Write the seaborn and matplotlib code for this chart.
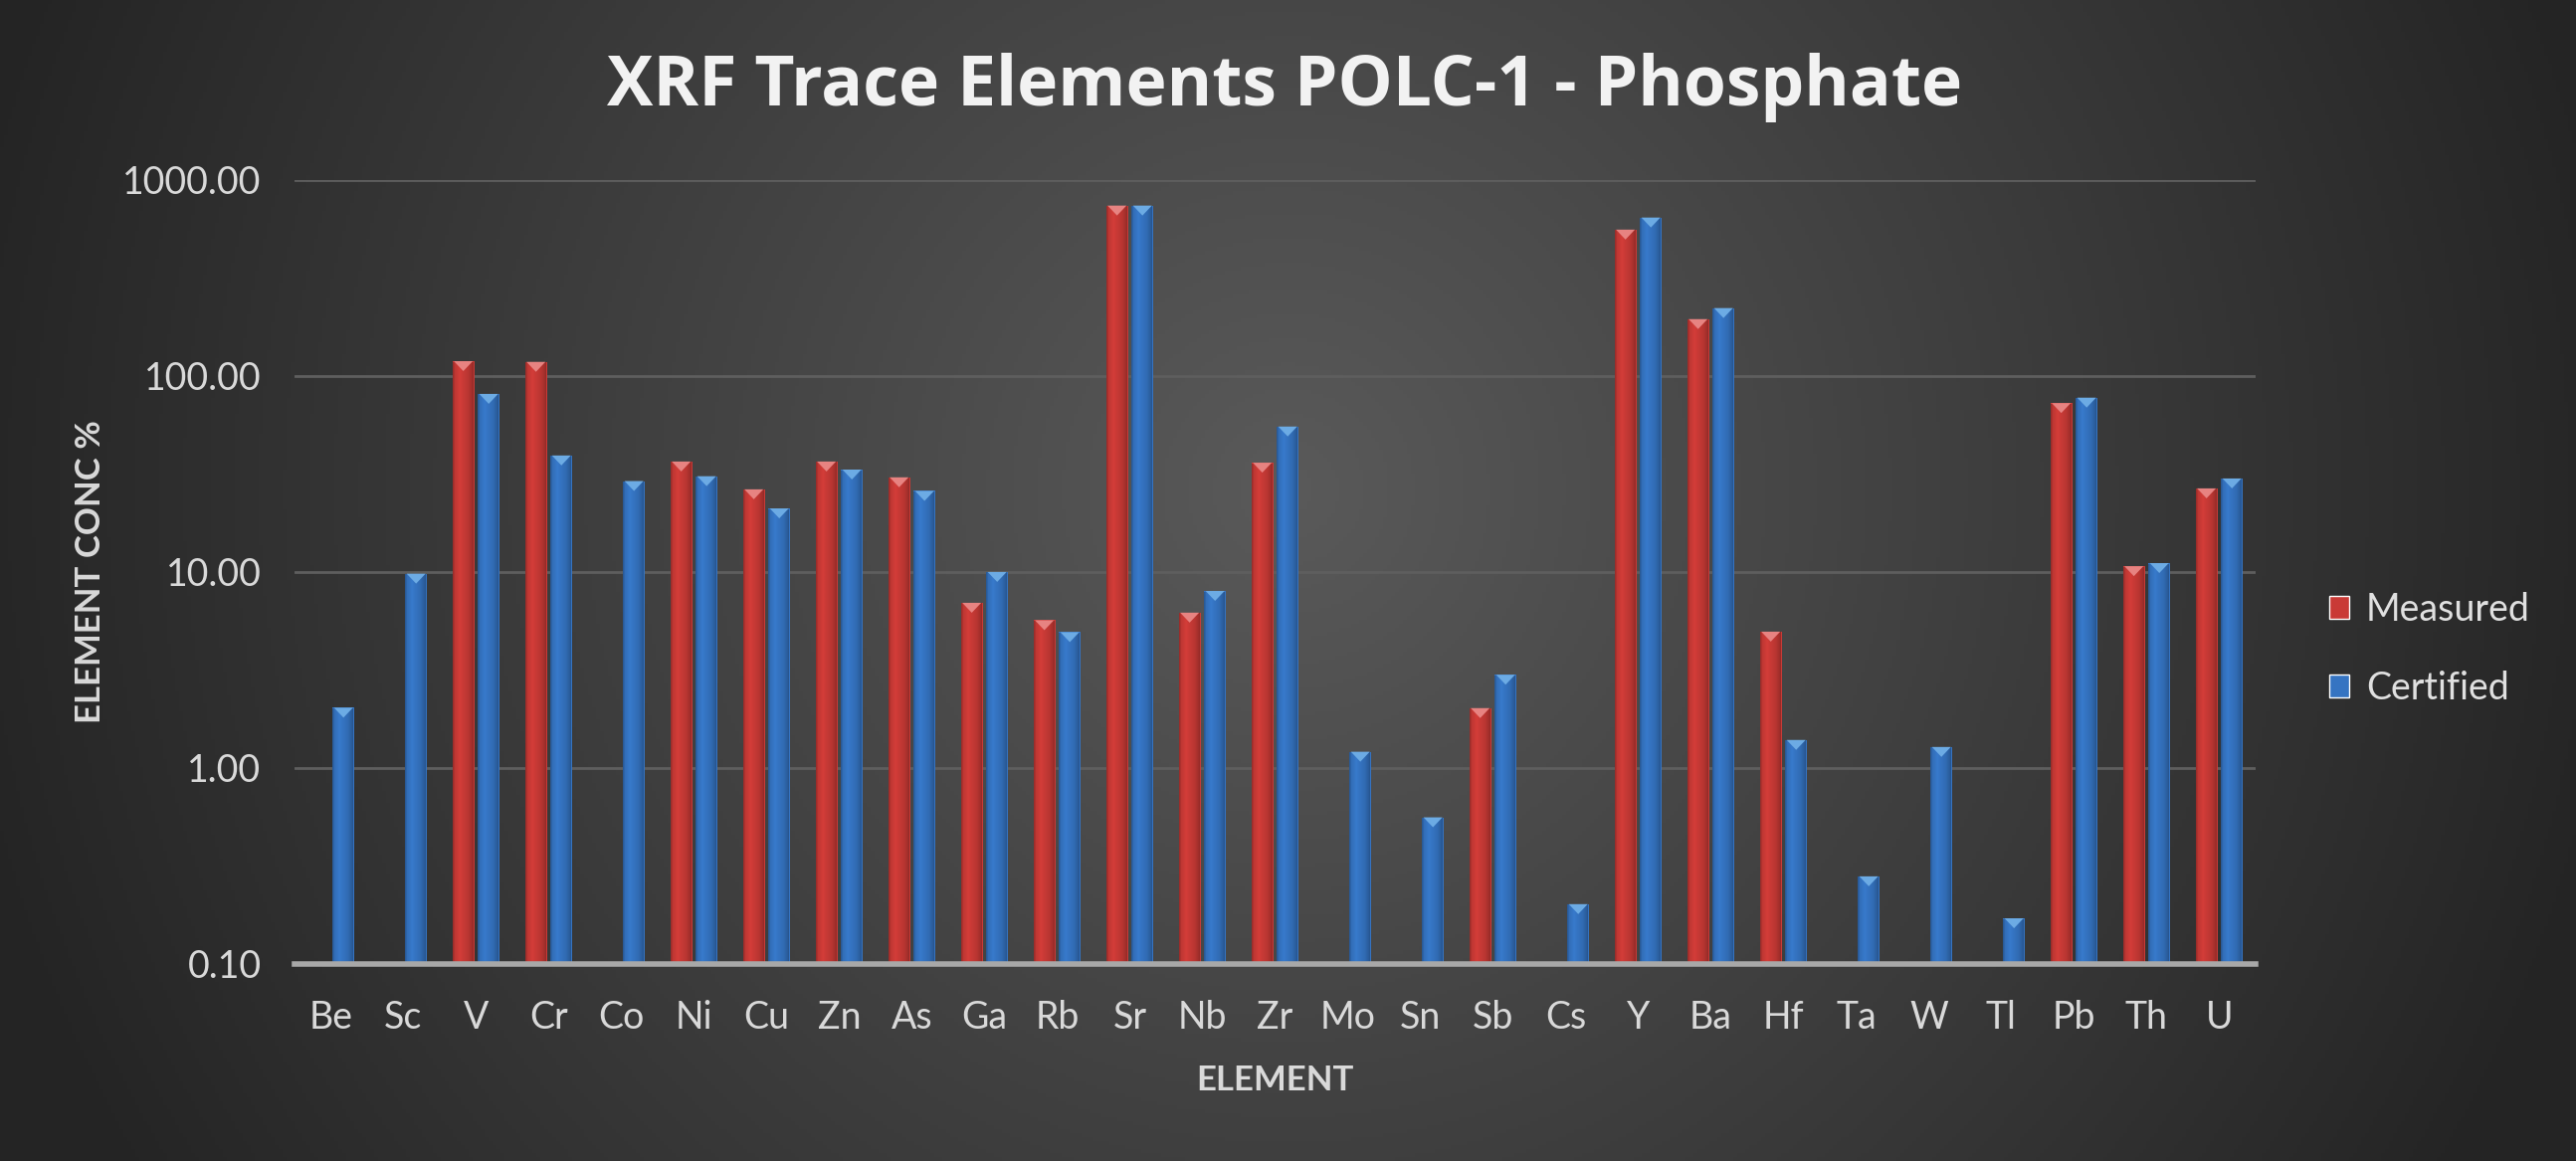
import numpy as np
import pandas as pd
import matplotlib
matplotlib.use("Agg")
import matplotlib.pyplot as plt
import seaborn as sns
from matplotlib.patches import Patch, Polygon
from matplotlib.transforms import IdentityTransform
from matplotlib.ticker import FixedLocator, FuncFormatter

elements = ["Be", "Sc", "V", "Cr", "Co", "Ni", "Cu", "Zn", "As", "Ga", "Rb", "Sr", "Nb", "Zr",
            "Mo", "Sn", "Sb", "Cs", "Y", "Ba", "Hf", "Ta", "W", "Tl", "Pb", "Th", "U"]
measured = [np.nan, np.nan, 119, 118, np.nan, 36.6, 26.4, 36.6, 30.4, 6.96, 5.67, 740, 6.2, 36.1,
            np.nan, np.nan, 2.02, np.nan, 558, 195, 4.96, np.nan, np.nan, np.nan, 72.7, 10.7, 26.7]
certified = [2.03, 9.8, 81, 39.3, 29.1, 30.8, 21.1, 33.3, 25.9, 10.0, 4.93, 740, 8.0, 55.2,
             1.21, 0.56, 2.99, 0.202, 643, 222, 1.39, 0.28, 1.28, 0.171, 77.5, 11.1, 30.0]
series = ["Measured", "Certified"]
yticks = [0.1, 1, 10, 100, 1000]

df = pd.DataFrame({
    "Element": elements * 2,
    "Series": [series[0]] * len(elements) + [series[1]] * len(elements),
    "Value": measured + certified,
})

red = "#c93a36"
blue = "#3574c2"
palette = {"Measured": red, "Certified": blue}

sns.set_theme(style="dark")
plt.rcParams["font.family"] = ["Lato", "DejaVu Sans"]

W, H = 2589, 1167
fig = plt.figure(figsize=(W / 100, H / 100), dpi=100)

# radial gradient background
bg = fig.add_axes([0, 0, 1, 1], zorder=-10)
yy, xx = np.mgrid[0:H:4, 0:W:4]
cx, cy = 0.50 * W, 0.42 * H
r = np.sqrt(((xx - cx) / (0.62 * W)) ** 2 + ((yy - cy) / (0.62 * W)) ** 2)
r = np.clip(r / 0.85, 0, 1)
c_in = np.array([90, 90, 90]) / 255
c_out = np.array([36, 36, 36]) / 255
img = c_in[None, None, :] * (1 - r[..., None]) + c_out[None, None, :] * r[..., None]
bg.imshow(img, aspect="auto", extent=[0, 1, 0, 1], origin="upper")
bg.set_axis_off()

ax = fig.add_axes([0.1143, 0.1697, 0.8756 - 0.1143, 0.845 - 0.1697])
ax.set_facecolor("none")
ax.patch.set_alpha(0)

sns.barplot(data=df, x="Element", y="Value", hue="Series", order=elements,
            hue_order=series, palette=palette, width=0.7, gap=0.14,
            saturation=1, ax=ax, legend=False, log_scale=True,
            edgecolor="none", linewidth=0)

ax.set_yscale("log")
ax.set_ylim(0.1, 1000)
ax.set_xlim(-0.5, len(elements) - 0.5)

# bevel-like shading: horizontal gradient clipped to each bar, plus light top triangle
prof_x = np.linspace(0, 1, 64)
def shade(rgb):
    base = np.array(rgb)
    f = np.interp(prof_x, [0, 0.08, 0.3, 0.7, 0.9, 1.0], [0.78, 0.95, 1.05, 0.92, 0.78, 0.6])
    return np.clip(base[None, :] * f[:, None], 0, 1)

fig.canvas.draw()
for p in list(ax.patches):
    h = p.get_height()
    if not np.isfinite(h) or h <= 0:
        continue
    rgb = np.array(p.get_facecolor()[:3])
    x0 = p.get_x(); x1 = x0 + p.get_width()
    g = shade(rgb)[None, :, :]
    im = ax.imshow(g, extent=[x0, x1, 0.1, h], aspect="auto", interpolation="bilinear",
                   zorder=p.get_zorder() + 0.1)
    im.set_clip_path(p)
    (dx0, dy), (dx1, _) = ax.transData.transform([(x0, h), (x1, h)])
    tint = np.array([1.0, 0.75, 0.75]) if rgb[0] > rgb[2] else np.array([0.6, 0.85, 1.0])
    light = tuple(np.clip(rgb * 0.45 + 0.55 * tint, 0, 1))
    tri = Polygon([(dx0 + 1.5, dy), (dx1 - 1.5, dy), ((dx0 + dx1) / 2, dy - 10)], closed=True,
                  facecolor=light, edgecolor="none", transform=IdentityTransform(),
                  zorder=p.get_zorder() + 0.2)
    ax.add_artist(tri)

ax.set_ylim(0.1, 1000)
ax.set_xlim(-0.5, len(elements) - 0.5)
ax.yaxis.set_major_locator(FixedLocator(yticks))
ax.yaxis.set_minor_locator(FixedLocator([]))
ax.yaxis.set_major_formatter(FuncFormatter(lambda v, pos: f"{v:.2f}"))

ax.grid(axis="y", color="#5e5e5e", linewidth=2.0)
ax.grid(axis="x", visible=False)
ax.set_axisbelow(True)
for s in ["top", "right", "left"]:
    ax.spines[s].set_visible(False)
ax.spines["bottom"].set_color("#a8a8a8")
ax.spines["bottom"].set_linewidth(4)
ax.spines["bottom"].set_zorder(5)

ax.tick_params(axis="both", length=0, colors="#d9d9d9", labelsize=27)
ax.tick_params(axis="x", pad=26)
ax.tick_params(axis="y", pad=24)

ax.set_xlabel("ELEMENT", color="#d9d9d9", fontsize=25, fontweight="bold", labelpad=21)
ax.set_ylabel("ELEMENT CONC %", color="#d9d9d9", fontsize=25, fontweight="bold", labelpad=12)

fig.text(0.4987, 0.925, "XRF Trace Elements POLC-1 - Phosphate", ha="center", va="center",
         fontsize=50, fontweight="bold", color="#f2f2f2", family=["Open Sans", "DejaVu Sans"])

handles = [Patch(facecolor=palette[s], label=s) for s in series]
leg = fig.legend(handles=handles, loc="center left", bbox_to_anchor=(0.891, 0.441),
                 frameon=False, fontsize=27, labelcolor="#e0e0e0", handlelength=0.55,
                 handleheight=0.55, handletextpad=0.45, labelspacing=1.15)

fig.savefig("out.png", dpi=100)
